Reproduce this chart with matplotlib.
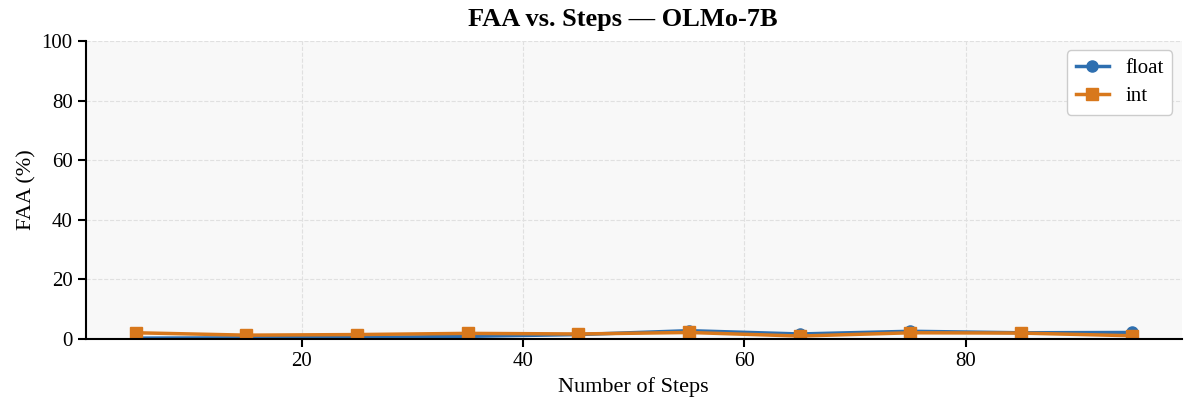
import matplotlib
matplotlib.use("Agg")
import matplotlib.pyplot as plt

plt.rcParams['font.family'] = ['Liberation Serif', 'DejaVu Serif']

steps = [5, 15, 25, 35, 45, 55, 65, 75, 85, 95]
faa_float = [0.3, 0.4, 0.5, 0.9, 1.5, 2.8, 1.7, 2.6, 2.1, 2.2]
faa_int = [2.1, 1.3, 1.5, 1.9, 1.7, 2.2, 1.0, 2.1, 2.0, 1.1]

fig, ax = plt.subplots(figsize=(11.84, 4.07), dpi=100)
fig.subplots_adjust(left=0.0726, right=0.998, top=0.899, bottom=0.167)
ax.set_facecolor('#f8f8f8')

ax.plot(steps, faa_float, '-o', color='#2e6fb0', lw=2.5, ms=8, label='float')
ax.plot(steps, faa_int, '-s', color='#d8781c', lw=2.5, ms=8, label='int')

ax.set_ylim(0, 100)
ax.set_title('FAA vs. Steps — OLMo-7B', fontsize=19, fontweight='bold', pad=11, x=0.49)
ax.set_xlabel('Number of Steps', fontsize=16)
ax.set_ylabel('FAA (%)', fontsize=16)
ax.tick_params(labelsize=15, width=1.5, length=6)
ax.grid(True, ls='--', color='#e0e0e0', lw=0.8)
for s in ('top', 'right'):
    ax.spines[s].set_visible(False)
for s in ('left', 'bottom'):
    ax.spines[s].set_linewidth(1.5)

ax.legend(loc='upper right', fontsize=15, framealpha=1, edgecolor='#cccccc',
          labelspacing=0.4, handlelength=1.6, borderaxespad=0.45)

fig.savefig('out.png', dpi=100)
